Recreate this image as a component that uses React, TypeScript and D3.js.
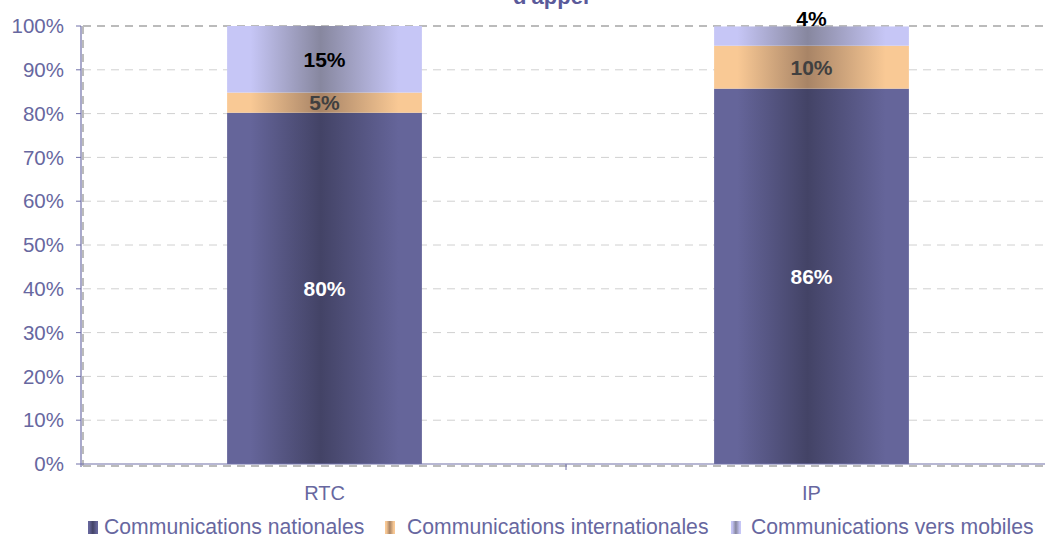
import React from "react";
import * as d3 from "d3";

const categories = ["RTC", "IP"];
const seriesNames = [
  "Communications nationales",
  "Communications internationales",
  "Communications vers mobiles",
];
const nationales = [80.2, 85.7];
const internationales = [4.6, 9.8];
const mobiles = [15.2, 4.4];
const yTicks = [0, 10, 20, 30, 40, 50, 60, 70, 80, 90, 100];
const titleText = "d'appel";

const W = 1045;
const H = 538;
const M = { left: 81, right: -10, top: 26, bottom: 74 };

const grads = [
  { id: "gNat", edge: "#65659A", mid: "#434366", label: "#FFFFFF" },
  { id: "gInt", edge: "#F9C995", mid: "#A88466", label: "#404040" },
  { id: "gMob", edge: "#C6C6F6", mid: "#87879F", label: "#000000" },
];

export default function App() {
  const outer = d3
    .scaleBand<string>()
    .domain(categories)
    .range([M.left, W - M.right]);
  const barW = outer.bandwidth() * 0.4;
  const barX = (c: string) => outer(c)! + (outer.bandwidth() - barW) / 2;
  const y = d3.scaleLinear().domain([0, 100]).range([H - M.bottom, M.top]);

  const rows = categories.map((c, i) => ({
    cat: c,
    v0: nationales[i],
    v1: internationales[i],
    v2: mobiles[i],
  }));
  const stack = d3.stack<any>().keys(["v0", "v1", "v2"])(rows);

  const tickColor = "#6767A0";
  const font = "Liberation Sans, Arial, sans-serif";
  const x0 = M.left;
  const x1 = W - M.right;

  const legendItems = [
    { x: 88, tx: 104 },
    { x: 385, tx: 407 },
    { x: 731, tx: 751 },
  ];

  return (
    <svg
      width={W}
      height={H}
      style={{ position: "absolute", left: 0, top: 0, display: "block" }}
      fontFamily={font}
    >
      <defs>
        {grads.map((g) => (
          <linearGradient key={g.id} id={g.id} x1="0" x2="1" y1="0" y2="0">
            <stop offset="0" stopColor={g.edge} />
            <stop offset="0.12" stopColor={g.edge} />
            <stop offset="0.48" stopColor={g.mid} />
            <stop offset="0.88" stopColor={g.edge} />
            <stop offset="1" stopColor={g.edge} />
          </linearGradient>
        ))}
      </defs>
      <rect width={W} height={H} fill="#fff" />
      <text
        x={551}
        y={4}
        textAnchor="middle"
        fontWeight="bold"
        fontSize={22}
        fill="#5A5A9A"
      >
        {titleText}
      </text>
      {/* gridlines */}
      {yTicks.map((t) => (
        <line
          key={t}
          x1={x0 + 2}
          x2={x1}
          y1={y(t) + (t === 0 ? 2 : 0)}
          y2={y(t) + (t === 0 ? 2 : 0)}
          stroke={t === 0 || t === 100 ? "#BBBBBB" : "#D0D0D0"}
          strokeWidth={t === 0 || t === 100 ? 2 : 1}
          strokeDasharray="8,6"
        />
      ))}
      <line
        x1={x0 + 2}
        x2={x0 + 2}
        y1={y(100)}
        y2={y(0) + 2}
        stroke="#BBBBBB"
        strokeWidth={2}
        strokeDasharray="8,6"
      />
      {/* bars */}
      {stack.map((s, si) =>
        s.map((d, i) => (
          <rect
            key={si + "-" + i}
            x={barX(categories[i])}
            width={barW}
            y={y(d[1])}
            height={y(d[0]) - y(d[1])}
            fill={`url(#${grads[si].id})`}
          />
        ))
      )}
      {/* axes */}
      <line x1={x0} x2={x0} y1={y(100)} y2={y(0) + 3} stroke="#7070A8" strokeWidth={1.2} />
      <line x1={x0} x2={x1} y1={y(0)} y2={y(0)} stroke="#7070A8" strokeWidth={1.2} />
      {yTicks.map((t) => (
        <g key={"t" + t}>
          <line x1={x0 - 5} x2={x0} y1={y(t)} y2={y(t)} stroke="#7070A8" />
          <text
            x={x0 - 17}
            y={y(t)}
            dy="0.35em"
            textAnchor="end"
            fontSize={20.5}
            fill={tickColor}
          >
            {t}%
          </text>
        </g>
      ))}
      {categories.map((c, i) => (
        <g key={c}>
          {i > 0 && (
            <line
              x1={outer(c)! - 2}
              x2={outer(c)! - 2}
              y1={y(0)}
              y2={y(0) + 6}
              stroke="#7070A8"
            />
          )}
          <text
            x={outer(c)! + outer.bandwidth() / 2}
            y={y(0) + 29}
            dy="0.35em"
            textAnchor="middle"
            fontSize={20}
            fill={tickColor}
          >
            {c}
          </text>
        </g>
      ))}
      {/* data labels */}
      {stack.map((s, si) =>
        s.map((d, i) => {
          const v = d[1] - d[0];
          const h = y(d[0]) - y(d[1]);
          const cy =
            h < 25 && si === 2 ? y(d[1]) - 8 : (y(d[0]) + y(d[1])) / 2;
          return (
            <text
              key={"l" + si + i}
              x={barX(categories[i]) + barW / 2}
              y={cy}
              dy="0.35em"
              textAnchor="middle"
              fontWeight="bold"
              fontSize={21}
              fill={grads[si].label}
            >
              {Math.round(v)}%
            </text>
          );
        })
      )}
      {/* legend */}
      {seriesNames.map((n, i) => (
        <g key={n}>
          <rect
            x={legendItems[i].x}
            y={521}
            width={10}
            height={13}
            fill={`url(#${grads[i].id})`}
          />
          <text
            x={legendItems[i].tx}
            y={527}
            dy="0.35em"
            fontSize={21.2}
            fill={tickColor}
          >
            {n}
          </text>
        </g>
      ))}
    </svg>
  );
}
